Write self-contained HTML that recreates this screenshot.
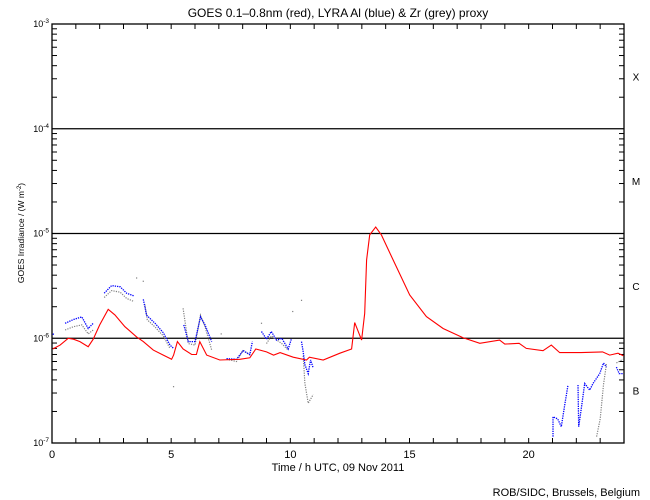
<!DOCTYPE html>
<html><head><meta charset="utf-8">
<style>
body{margin:0;background:#fff;}
svg{display:block;font-family:"Liberation Sans",sans-serif;}
</style></head>
<body>
<svg id="chart" width="650" height="500" viewBox="0 0 650 500">
<text x="338" y="17" text-anchor="middle" font-size="12">GOES 0.1–0.8nm (red), LYRA Al (blue) &amp; Zr (grey) proxy</text>
<text x="338" y="471" text-anchor="middle" font-size="11">Time / h UTC, 09 Nov 2011</text>
<text x="640" y="496" text-anchor="end" font-size="11">ROB/SIDC, Brussels, Belgium</text>
<text transform="translate(24,233) rotate(-90)" text-anchor="middle" font-size="8.5">GOES Irradiance / (W m<tspan dy="-3" font-size="6">-2</tspan><tspan dy="3">)</tspan></text>
<g id="axes"></g>
<g id="series"></g>
</svg>
<script>
const xTicks=[0,5,10,15,20];
const yDecades=[-3,-4,-5,-6,-7];
const classLabels=['X','M','C','B'];
const classLogs=[-3.5,-4.5,-5.5,-6.5];

const redH=[0.03,0.34,0.68,0.9,1.17,1.52,1.73,2.0,2.36,2.64,3.06,3.55,3.83,4.25,4.67,5.02,5.1,5.26,5.5,5.86,6.06,6.2,6.49,7.04,7.88,8.3,8.55,9.0,9.3,9.57,10.12,10.68,10.8,11.38,12.08,12.57,12.7,12.99,13.12,13.2,13.33,13.58,13.82,14.31,15.01,15.71,16.41,17.25,17.95,18.78,19.0,19.6,19.9,20.6,20.95,21.3,22.2,23.1,23.4,23.75,23.97];
const redV=[7.9e-7,8.6e-7,1.0e-6,9.8e-7,9.3e-7,8.3e-7,9.8e-7,1.34e-6,1.89e-6,1.67e-6,1.29e-6,1.03e-6,9.3e-7,7.7e-7,6.9e-7,6.3e-7,6.9e-7,9.3e-7,7.9e-7,7.0e-7,7.0e-7,9.3e-7,6.9e-7,6.2e-7,6.3e-7,6.5e-7,7.9e-7,7.4e-7,6.9e-7,7.3e-7,6.6e-7,6.2e-7,6.6e-7,6.2e-7,7.2e-7,7.9e-7,1.41e-6,9.6e-7,1.73e-6,5.6e-6,9.7e-6,1.15e-5,9.7e-6,5.6e-6,2.59e-6,1.61e-6,1.24e-6,1.01e-6,8.95e-7,9.6e-7,8.8e-7,8.95e-7,8.0e-7,7.6e-7,8.6e-7,7.3e-7,7.3e-7,7.4e-7,6.9e-7,7.2e-7,6.8e-7];

const blueH=[0.03,0.1,null,0.55,0.9,1.25,1.52,1.73,null,2.19,2.5,2.86,3.13,3.45,null,3.83,3.97,4.32,4.67,4.95,5.1,null,5.53,5.72,6.0,6.23,6.42,6.7,null,7.18,null,7.32,7.74,8.02,8.3,8.41,null,8.79,9.0,9.2,9.42,9.64,9.91,10.04,null,10.47,10.54,10.61,10.75,10.85,10.96,null,21.02,21.02,21.22,21.37,21.51,21.65,null,22.07,22.1,22.2,22.35,22.56,22.7,22.98,23.14,23.27,null,23.68,23.8,23.95];
const blueV=[1.1e-6,1.08e-6,null,1.39e-6,1.51e-6,1.6e-6,1.24e-6,1.39e-6,null,2.69e-6,3.18e-6,3.1e-6,2.69e-6,2.53e-6,null,2.35e-6,1.66e-6,1.39e-6,1.13e-6,8.6e-7,8.0e-7,null,1.34e-6,9.3e-7,9.3e-7,1.6e-6,1.34e-6,9.3e-7,null,8.2e-7,null,6.4e-7,6.3e-7,7.6e-7,7.0e-7,9.3e-7,null,1.16e-6,9.8e-7,1.16e-6,9.6e-7,1.0e-6,7.9e-7,9.8e-7,null,9.3e-7,7.4e-7,5.6e-7,4.6e-7,6.2e-7,5.2e-7,null,1.15e-7,1.78e-7,1.7e-7,1.43e-7,2.3e-7,3.58e-7,null,3.58e-7,1.43e-7,2.07e-7,3.7e-7,3.2e-7,3.7e-7,4.6e-7,5.8e-7,5.3e-7,null,5.3e-7,4.6e-7,4.6e-7];

const greyH=[0.55,0.9,1.25,1.52,1.73,null,2.19,2.5,2.86,3.13,3.45,null,3.9,4.0,4.32,4.67,4.95,null,5.5,5.72,6.0,6.23,6.42,6.7,null,7.32,7.74,8.02,8.3,null,9.0,9.2,9.64,9.91,null,10.54,10.61,10.75,10.96,null,22.85,23.0,23.14,23.27,null,23.68,23.95];
const greyV=[1.2e-6,1.29e-6,1.34e-6,1.1e-6,1.2e-6,null,2.45e-6,2.85e-6,2.75e-6,2.4e-6,2.24e-6,null,2.1e-6,1.5e-6,1.28e-6,1.05e-6,8.0e-7,null,1.93e-6,8.9e-7,8.6e-7,1.66e-6,1.29e-6,7.7e-7,null,6.3e-7,6.0e-7,7.7e-7,6.9e-7,null,8.9e-7,1.05e-6,8.9e-7,7.7e-7,null,6.8e-7,3.7e-7,2.4e-7,2.9e-7,null,1.15e-7,1.7e-7,3.6e-7,5.8e-7,null,5.8e-7,6.3e-7];
const greyScatterH=[3.55,3.83,5.1,8.79,10.47,10.1,7.1];
const greyScatterV=[3.76e-6,3.5e-6,3.45e-7,1.39e-6,2.3e-6,1.8e-6,1.1e-6];

const L=52,R=624,T=24,B=443;
const xs=h=>L+(h/24)*(R-L);
const ys=v=>T+(-3-Math.log10(v))/4*(B-T);
const NS='http://www.w3.org/2000/svg';
function mk(tag,attrs,parent){const e=document.createElementNS(NS,tag);for(const k in attrs)e.setAttribute(k,attrs[k]);parent.appendChild(e);return e;}
const ax=document.getElementById('axes');
const frame=mk('rect',{x:L,y:T,width:R-L,height:B-T,fill:'none',stroke:'#000','stroke-width':1.3},ax);


for(let h=0;h<=24;h++){
  const x=xs(h);
  const t1=mk('line',{x1:x,x2:x,y1:B,y2:B-5,stroke:'#000'},ax);
  
  
  const t2=mk('line',{x1:x,x2:x,y1:T,y2:T+5,stroke:'#000'},ax);
  
  
}
xTicks.forEach(h=>{
  const t=mk('text',{x:xs(h),y:B+15,'text-anchor':'middle','font-size':11},ax);
  t.textContent=String(h);
  
  
});
yDecades.forEach(d=>{
  const y=ys(Math.pow(10,d));
  const t=mk('text',{x:L-3,y:y+3,'text-anchor':'end','font-size':9},ax);
  t.innerHTML='10<tspan dy="-4" font-size="6.5">'+d+'</tspan>';
  
  
  if(d<-3&&d>-7){
    const g=mk('line',{x1:L,x2:R,y1:y,y2:y,stroke:'#000','stroke-width':1.3},ax);
    
    
  }
  if(d>-7){
    for(let m=2;m<=9;m++){
      const yy=ys(m*Math.pow(10,d-1));
      const a=mk('line',{x1:L,x2:L+5,y1:yy,y2:yy,stroke:'#000'},ax);
      
      
      const b=mk('line',{x1:R,x2:R-5,y1:yy,y2:yy,stroke:'#000'},ax);
      
      
    }
  }
});
classLabels.forEach((c,i)=>{
  const t=mk('text',{x:636,y:ys(Math.pow(10,classLogs[i]))+4,'text-anchor':'middle','font-size':10},ax);
  t.textContent=c;
  
  
});
const sg=document.getElementById('series');
function series(H,V,color,name,dash,w){
  let d='',pen=false;
  for(let i=0;i<H.length;i++){
    if(H[i]===null){pen=false;continue;}
    d+=(pen?'L':'M')+xs(H[i]).toFixed(1)+','+ys(V[i]).toFixed(1);pen=true;
  }
  const p=mk('path',{d:d,fill:'none',stroke:color,'stroke-width':w},sg);
  if(dash)p.setAttribute('stroke-dasharray',dash);
  
  
}
series(greyH,greyV,'#808080','zr-proxy-series','1.2 1.2',1.2);
greyScatterH.forEach((h,i)=>{
  const r=mk('rect',{x:xs(h)-0.6,y:ys(greyScatterV[i])-0.6,width:1.2,height:1.2,fill:'#808080'},sg);
  
  
});
series(blueH,blueV,'#0000ff','al-proxy-series','1.3 1',1.3);
series(redH,redV,'#ff0000','goes-xray-series',null,1.1);
</script>
</body></html>
